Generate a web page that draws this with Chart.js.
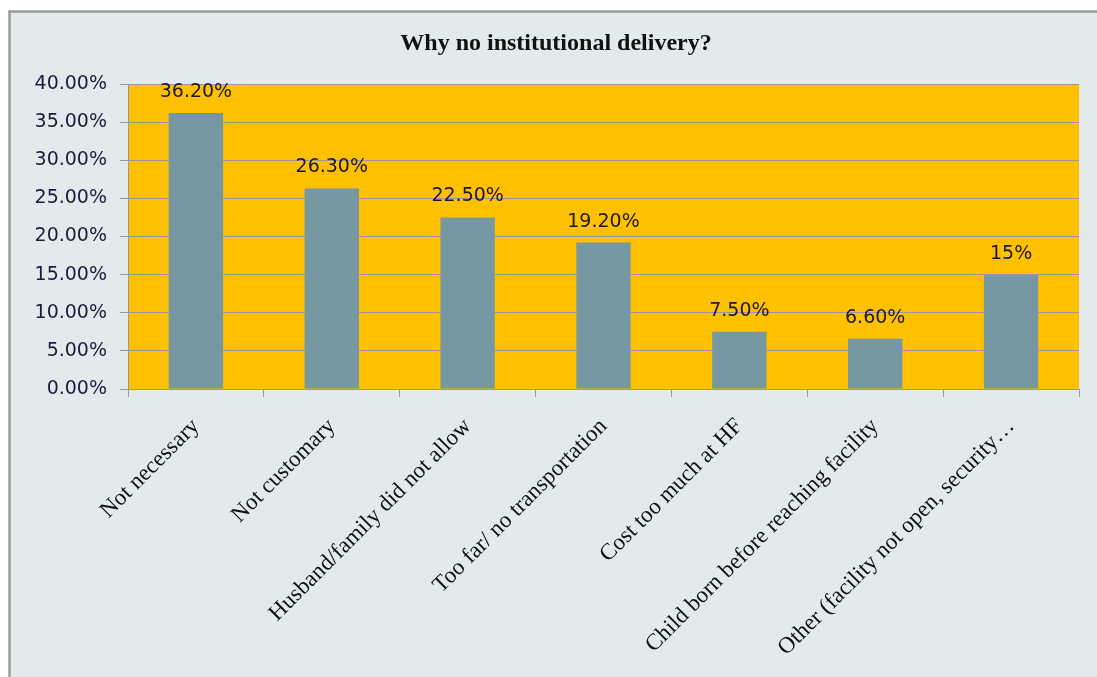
<!DOCTYPE html>
<html>
<head>
<meta charset="utf-8">
<script src="https://cdn.jsdelivr.net/npm/chart.js@4.4.1/dist/chart.umd.min.js"></script>
<style>
html,body{margin:0;padding:0;background:#ffffff;}
#wrap{position:relative;width:1097px;height:677px;}
canvas{display:block;}
</style>
</head>
<body>
<div id="wrap"><canvas id="c" width="1097" height="677"></canvas></div>
<script>
const chartTitle = 'Why no institutional delivery?';
const categories = [
  'Not necessary',
  'Not customary',
  'Husband/family did not allow',
  'Too far/ no transportation',
  'Cost too much at HF',
  'Child born before reaching facility',
  'Other (facility not open, security\u2026'
];
const values = [36.2, 26.3, 22.5, 19.2, 7.5, 6.6, 15];
const valueLabels = ['36.20%', '26.30%', '22.50%', '19.20%', '7.50%', '6.60%', '15%'];
const yMin = 0, yMax = 40, yStep = 5;

const framePlugin = {
  id: 'frame',
  beforeDraw(chart) {
    const ctx = chart.ctx;
    const ca = chart.chartArea;
    ctx.save();
    ctx.fillStyle = '#ffffff';
    ctx.fillRect(0, 0, chart.width, chart.height);
    ctx.fillStyle = '#e3eaec';
    ctx.fillRect(9, 11, chart.width, chart.height);
    ctx.strokeStyle = '#9a9a9a';
    ctx.lineWidth = 2.5;
    ctx.beginPath();
    ctx.moveTo(9.5, chart.height + 5);
    ctx.lineTo(9.5, 11.5);
    ctx.lineTo(chart.width + 5, 11.5);
    ctx.stroke();
    ctx.fillStyle = '#ffc000';
    ctx.fillRect(ca.left, ca.top, ca.right - ca.left, ca.bottom - ca.top);
    ctx.fillStyle = '#111111';
    ctx.font = 'bold 24px "Liberation Serif", "Times New Roman", serif';
    ctx.textAlign = 'center';
    ctx.textBaseline = 'middle';
    ctx.fillText(chartTitle, 556, 44);
    ctx.restore();
  },
  afterDatasetsDraw(chart) {
    const ctx = chart.ctx;
    const meta = chart.getDatasetMeta(0);
    ctx.save();
    ctx.fillStyle = '#1a1a1a';
    ctx.font = '19px "DejaVu Sans", sans-serif';
    ctx.textAlign = 'center';
    ctx.textBaseline = 'middle';
    meta.data.forEach((bar, i) => {
      ctx.fillText(valueLabels[i], bar.x, bar.y - 21);
    });
    ctx.restore();
  }
};

new Chart(document.getElementById('c'), {
  type: 'bar',
  data: {
    labels: categories,
    datasets: [{
      data: values,
      backgroundColor: '#7698a3',
      borderWidth: 0,
      barPercentage: 0.4,
      categoryPercentage: 1.0
    }]
  },
  options: {
    responsive: false,
    animation: false,
    devicePixelRatio: 1,
    layout: { padding: { left: 0, right: 18, top: 84, bottom: 0 } },
    plugins: {
      legend: { display: false },
      title: { display: false },
      tooltip: { enabled: false }
    },
    scales: {
      x: {
        afterFit(scale) { scale.height = 288; },
        grid: {
          display: true,
          drawOnChartArea: false,
          drawTicks: true,
          tickLength: 8,
          color: '#999999',
          offset: true
        },
        border: { display: true, color: '#999999', width: 1 },
        ticks: {
          autoSkip: false,
          maxRotation: 45,
          minRotation: 45,
          padding: 16,
          color: '#111111',
          font: { family: '"Liberation Serif", "Times New Roman", serif', size: 23 }
        }
      },
      y: {
        min: yMin,
        max: yMax,
        afterFit(scale) { scale.width = 128; },
        grid: {
          color: '#999999',
          tickLength: 8,
          drawTicks: true
        },
        border: { display: true, color: '#999999', width: 1 },
        ticks: {
          stepSize: yStep,
          padding: 13,
          color: '#1c1c3c',
          font: { family: '"DejaVu Sans", sans-serif', size: 19 },
          callback: v => v.toFixed(2) + '%'
        }
      }
    }
  },
  plugins: [framePlugin]
});
</script>
</body>
</html>
